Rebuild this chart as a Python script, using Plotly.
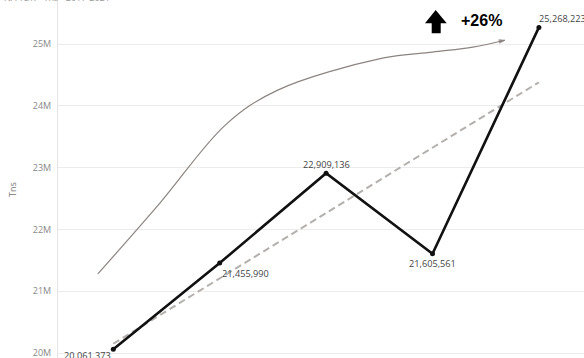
import plotly.graph_objects as go

# ---- data ----
years = [2017, 2018, 2019, 2020, 2021]
tns = [20061373, 21455990, 22909136, 21605561, 25268223]
value_labels = ["20,061,373", "21,455,990", "22,909,136", "21,605,561", "25,268,223"]

trend_years = [2017, 2021]
trend_values = [20150000, 24380000]

curve_years = [2016.855, 2017.44, 2018.06, 2018.54, 2019.53, 2020.00, 2020.38, 2020.68]
curve_values = [21280000, 22430000, 23700000, 24250000, 24770000, 24870000, 24950000, 25060000]

y_tick_vals = [20e6, 21e6, 22e6, 23e6, 24e6, 25e6]
y_tick_text = ["20M", "21M", "22M", "23M", "24M", "25M"]

title_text = "NA TDR - Tns - 2017-2021"
change_text = "+26%"
y_title = "Tns"

# ---- layout constants (pixels) ----
W, H = 584, 358
L, R, T, B = 58, 0, 0, 0
PW, PH = W - L - R, H - T - B

def px(x):
    return (x - L) / PW

def py(y):
    return 1 - (y - T) / PH

FONT = "Open Sans"

fig = go.Figure()

fig.add_trace(go.Scatter(
    x=curve_years, y=curve_values, mode="lines+markers",
    line=dict(color="#8c8480", width=1.2, shape="spline", smoothing=1.0),
    marker=dict(size=[0] * (len(curve_years) - 1) + [6], symbol="arrow",
                angleref="previous", color="#6f6763"),
    hoverinfo="skip", showlegend=False))

fig.add_trace(go.Scatter(
    x=trend_years, y=trend_values, mode="lines",
    line=dict(color="#b3b0ae", width=2, dash="7px,4px"),
    hoverinfo="skip", showlegend=False))

fig.add_trace(go.Scatter(
    x=years, y=tns, mode="lines+markers",
    line=dict(color="#111111", width=2.6),
    marker=dict(size=5, color="#111111"),
    showlegend=False))

# value labels
label_style = [
    dict(xanchor="right", yanchor="middle", xshift=0, yshift=-6),
    dict(xanchor="left", yanchor="middle", xshift=0, yshift=-10),
    dict(xanchor="center", yanchor="middle", xshift=0, yshift=9),
    dict(xanchor="center", yanchor="middle", xshift=0, yshift=-10),
    dict(xanchor="left", yanchor="middle", xshift=-2, yshift=9),
]
for x, y, t, s in zip(years, tns, value_labels, label_style):
    fig.add_annotation(x=x, y=y, text=t, showarrow=False,
                       font=dict(family=FONT, size=9.2, color="#444444"), **s)

# big up arrow
arrow_pts = [(425, 23.3), (435.7, 10), (446.7, 23.3), (440.7, 23.3),
             (440.7, 33.3), (431.7, 33.3), (431.7, 23.3)]
path = "M " + " L ".join(f"{px(a)},{py(b)}" for a, b in arrow_pts) + " Z"
fig.add_shape(type="path", path=path, xref="paper", yref="paper",
              fillcolor="#000000", line=dict(width=0))

fig.add_annotation(x=px(459), y=py(20), xref="paper", yref="paper",
                   text=f"<b>{change_text}</b>", showarrow=False,
                   xanchor="left", yanchor="middle",
                   font=dict(family="Liberation Sans", size=16, color="#000000"))

# clipped title at top-left
fig.add_annotation(x=px(2), y=1, xref="paper", yref="paper", text=title_text,
                   showarrow=False, xanchor="left", yanchor="bottom", yshift=-6,
                   font=dict(family=FONT, size=9, color="#9a9a9a"))

# y axis title
fig.add_annotation(x=px(12), y=py(190), xref="paper", yref="paper", text=y_title,
                   showarrow=False, textangle=-90, xanchor="center", yanchor="middle",
                   font=dict(family=FONT, size=9, color="#777777"))

x0 = 2017 + (L - 113.3) / 106.4
x1 = 2017 + (W - R - 113.3) / 106.4
ppm = (353 - 44) / 5.0
y0 = 20e6 - ((H - B) - 353) / ppm * 1e6
y1 = 20e6 + (353 - T) / ppm * 1e6

fig.update_layout(
    width=W, height=H,
    margin=dict(l=L, r=R, t=T, b=B),
    paper_bgcolor="white", plot_bgcolor="white",
    font=dict(family=FONT),
    xaxis=dict(range=[x0, x1], showgrid=False, zeroline=False,
               showticklabels=False, showline=False, ticks=""),
    yaxis=dict(range=[y0, y1], tickvals=y_tick_vals, ticktext=y_tick_text,
               showgrid=True, gridcolor="#ececec", gridwidth=1,
               zeroline=False, showline=True, linecolor="#e4e4e4",
               tickfont=dict(family=FONT, size=9, color="#8a8a8a"),
               ticks="", ticklabelstandoff=4, ticklabeloverflow="allow"),
)

fig.write_html("out.html", config={"displayModeBar": False},
               post_script="document.body.style.margin='0';document.body.style.overflow='hidden';")
